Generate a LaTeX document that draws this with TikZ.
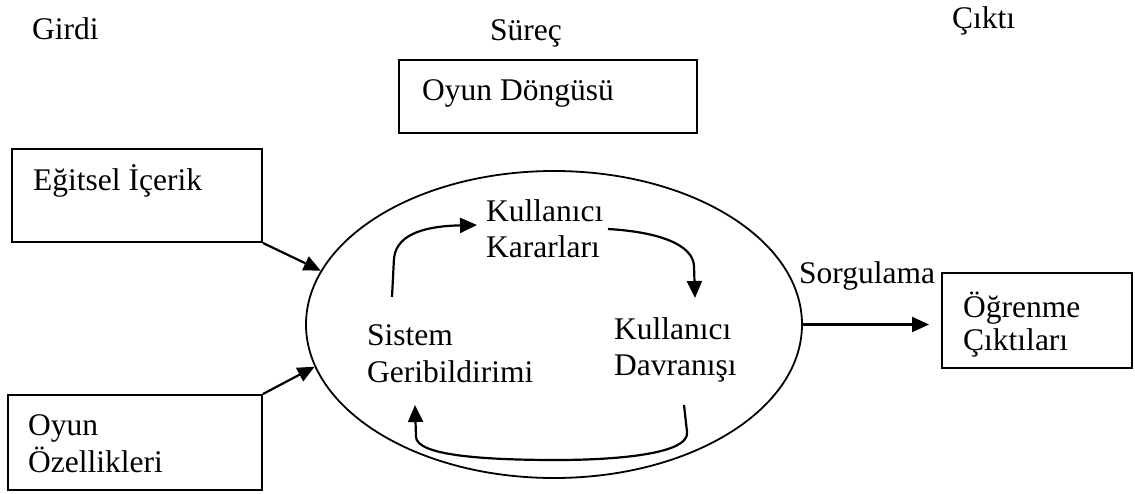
\documentclass[tikz,border=0pt]{standalone}
\usepackage{fontspec}
\setmainfont{Liberation Serif}
\usetikzlibrary{shapes.geometric,arrows.meta}

\tikzset{
  kutu/.style={draw, line width=2pt, inner sep=0pt},
  yazi/.style={inner sep=0pt, anchor=base west, align=left},
  ok/.style={line width=2.2pt, -{Triangle[length=17pt,width=15pt]}},
}

\begin{document}
\begin{tikzpicture}[x=1pt,y=-1pt,font=\fontsize{31.5}{36}\selectfont]
  \useasboundingbox (0,0) rectangle (1135,493);

  % Basliklar
  \node[yazi] (girdi) at (32,39) {Girdi};
  \node[yazi] (surec) at (490,40) {Süreç};
  \node[yazi] (cikti) at (952,28) {Çıktı};

  % Kutular
  \node[kutu, minimum width=298pt, minimum height=73pt] (dongu) at (548,96.5) {};
  \node[kutu, minimum width=250pt, minimum height=93pt] (egitsel) at (137,195.5) {};
  \node[kutu, minimum width=254pt, minimum height=95pt] (ozellik) at (135,442.5) {};
  \node[kutu, minimum width=190pt, minimum height=95pt] (ogrenme) at (1037,320.5) {};
  \node[yazi] (donguyazi) at (422,100) {Oyun Döngüsü};
  \node[yazi] (egitselyazi) at (33,190) {Eğitsel İçerik};
  \node[yazi] (ozellikyazi) at (28,472) {Oyun\\[1pt]Özellikleri};
  \node[yazi] (ogrenmeyazi) at (963,350) {Öğrenme\\[-3pt]Çıktıları};

  % Oyun dongusu
  \node[draw, ellipse, line width=1.8pt, minimum width=496pt, minimum height=307pt] (oyun) at (554,324.5) {};
  \node[yazi] (kararlar) at (486,257) {Kullanıcı\\Kararları};
  \node[yazi] (davranis) at (614,375) {Kullanıcı\\Davranışı};
  \node[yazi] (geribildirim) at (367,382) {Sistem\\[1pt]Geribildirimi};

  % Donen oklar
  \coordinate (g1) at (392,297);
  \coordinate (k1) at (477,225);
  \coordinate (k2) at (608,229);
  \coordinate (d1) at (695,298);
  \coordinate (d2) at (684,405);
  \coordinate (g2) at (415,405);
  \draw[ok] (g1) -- (394,258) .. controls (397,232) and (430,226) .. (k1);
  \draw[ok] (k2) .. controls (660,232) and (693,245) .. (694,266) -- (d1);
  \draw[ok] (d2) -- (687,432) .. controls (690,455) and (610,460) .. (557,460)
    .. controls (480,460) and (417,455) .. (416,437) -- (g2);

  % Girdi ve cikti oklari
  \draw[ok] (egitsel.south east) -- (oyun.167);
  \draw[ok] (ozellik.north east) -- (oyun.190);
  \node[yazi] (sorgu) at (799,283) {Sorgulama};
  \draw[ok] (oyun.east) -- ([xshift=-12pt]ogrenme.west |- oyun.east);
\end{tikzpicture}
\end{document}
